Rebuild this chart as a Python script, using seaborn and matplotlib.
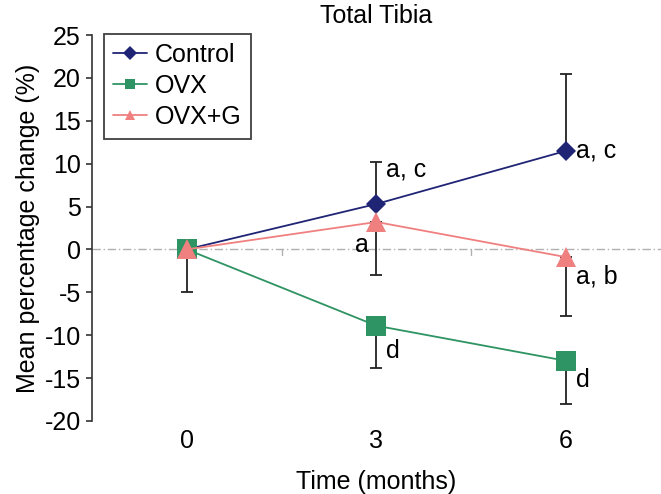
import matplotlib
matplotlib.use("Agg")
import matplotlib.pyplot as plt
import seaborn as sns
import numpy as np
import pandas as pd

# ---- data ----
months = ["0", "3", "6"]
control = [0.0, 5.3, 11.5]
ovx = [0.0, -8.9, -13.0]
ovx_g = [0.0, 3.2, -0.9]
control_err_up = [0.0, 4.9, 9.0]
ovx_err_down = [0.0, 4.9, 5.0]
ovx_g_err_down = [5.0, 6.2, 6.9]
annotations = [
    ("a, c", 1, 9.3), ("a, c", 2, 11.5),
    ("a", 1, 0.5), ("a, b", 2, -3.2),
    ("d", 1, -11.9), ("d", 2, -15.2),
]

sns.set_theme(style="white")
plt.rcParams["font.family"] = ["Liberation Sans", "DejaVu Sans"]
plt.rcParams["axes.unicode_minus"] = False
plt.rcParams["text.color"] = "black"
plt.rcParams["axes.labelcolor"] = "black"
plt.rcParams["xtick.color"] = "black"
plt.rcParams["ytick.color"] = "black"

FS = 18

fig = plt.figure(figsize=(6.61, 4.94), dpi=100)
ax = fig.add_axes([0.139, 0.148, 0.861, 0.781])

pos = np.arange(len(months))
df = pd.DataFrame({"pos": np.tile(pos, 3),
                   "val": control + ovx + ovx_g,
                   "grp": ["Control"] * 3 + ["OVX"] * 3 + ["OVX+G"] * 3})

colors = {"Control": "#1f2475", "OVX": "#2e9463", "OVX+G": "#f08080"}
markers = {"Control": "D", "OVX": "s", "OVX+G": "^"}
msizes = {"Control": 10, "OVX": 14, "OVX+G": 15}

# zero line
ax.axhline(0, color="#b0b0b0", lw=1.0, ls=(0, (6, 2, 1, 2)), zorder=1)
for b in [0.5, 1.5]:
    ax.plot([b, b], [0, -0.6], color="#b0b0b0", lw=1.0, zorder=1)

# error bars (one-sided)
ekw = dict(fmt="none", ecolor="#222222", elinewidth=1.3, capsize=4.5, capthick=1.3, zorder=2)
ax.errorbar(pos, control, yerr=[np.zeros(3), control_err_up], **ekw)
ax.errorbar(pos, ovx, yerr=[ovx_err_down, np.zeros(3)], **ekw)
ax.errorbar(pos, ovx_g, yerr=[ovx_g_err_down, np.zeros(3)], **ekw)

for g in ["Control", "OVX", "OVX+G"]:
    sub = df[df.grp == g]
    sns.lineplot(data=sub, x="pos", y="val", ax=ax, color=colors[g],
                 marker=markers[g], markersize=msizes[g], markeredgewidth=0,
                 lw=1.3, label=g, zorder=3)

for txt, x, y in annotations:
    ha = "right" if txt == "a" else "left"
    xx = x - 0.04 if txt == "a" else x + 0.05
    ax.text(xx, y, txt, fontsize=FS, ha=ha, va="center", color="black")

ax.set_xlim(-0.5, 2.5)
ax.set_ylim(-20, 25)
ax.set_yticks(np.arange(-20, 26, 5))
ax.set_xticks(pos)
ax.set_xticklabels(months)
ax.tick_params(axis="y", which="both", left=True, length=4, width=1.2,
               color="#333333", labelsize=FS, pad=4)
ax.tick_params(axis="x", bottom=False, labelsize=FS, pad=0)
for s in ["top", "right", "bottom"]:
    ax.spines[s].set_visible(False)
ax.spines["left"].set_color("#333333")
ax.spines["left"].set_linewidth(1.2)

ax.set_xlabel("Time (months)", fontsize=FS, labelpad=12)
ax.set_ylabel("Mean percentage change (%)", fontsize=FS, labelpad=3)
ax.set_title("Total Tibia", fontsize=FS, pad=9)

leg = ax.legend(loc="upper left", bbox_to_anchor=(0.021, 1.004), borderaxespad=0,
                fontsize=FS, frameon=True, fancybox=False, handlelength=1.35,
                handletextpad=0.3, labelspacing=0.28, borderpad=0.38)
leg.get_frame().set_edgecolor("#111111")
leg.get_frame().set_linewidth(1.3)
for h in leg.legend_handles:
    h.set_markersize(7)

fig.savefig("out.png", dpi=100)
